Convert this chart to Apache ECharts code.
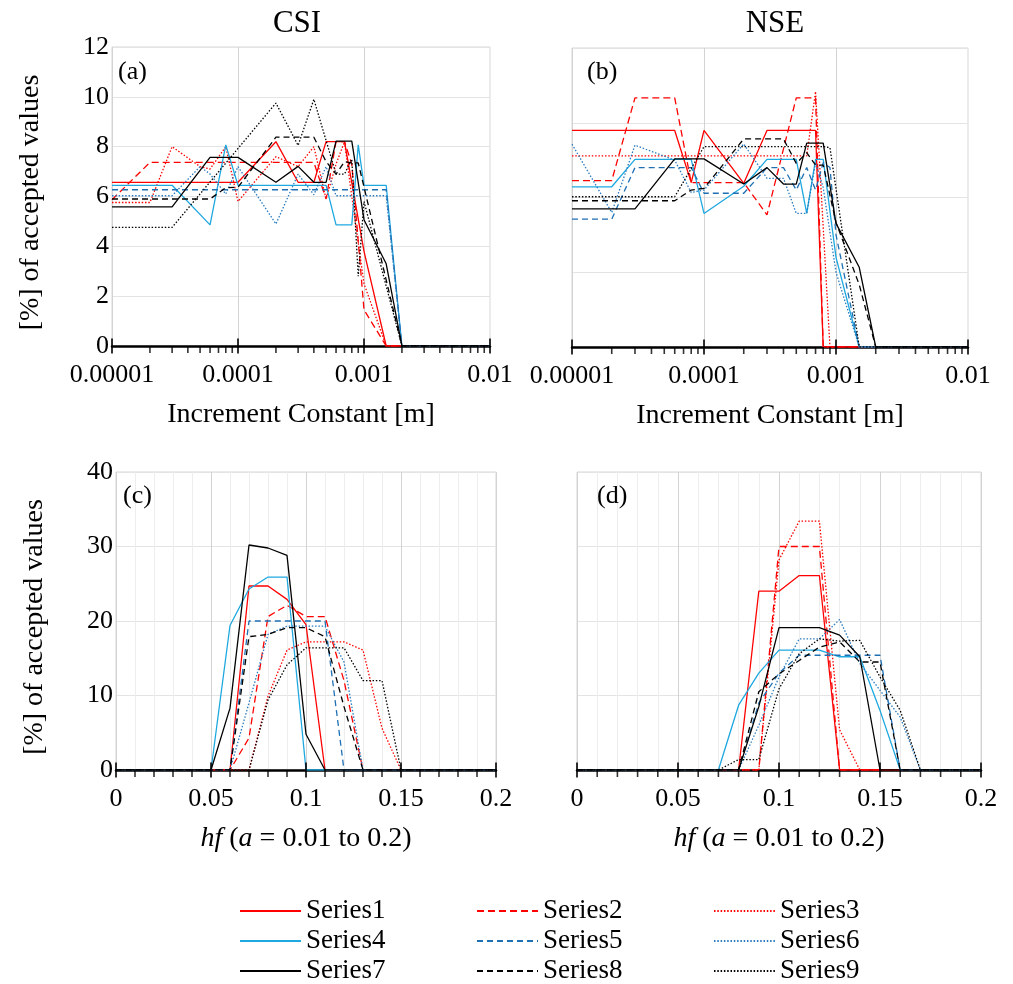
<!DOCTYPE html>
<html>
<head>
<meta charset="utf-8">
<script src="https://cdn.jsdelivr.net/npm/echarts@6/dist/echarts.min.js"></script>
<style>
  html, body { margin: 0; padding: 0; background: #ffffff; }
  #chart { width: 1013px; height: 984px; }
</style>
</head>
<body>
<div id="chart"></div>
<script>
// ---- data -------------------------------------------------------------
const SERIES_NAMES = ['Series1', 'Series2', 'Series3', 'Series4', 'Series5', 'Series6', 'Series7', 'Series8', 'Series9'];

// increment constant [m] (log axis), shared by the CSI and NSE panels
const X_INCREMENT = [1e-5, 2e-5, 3e-5, 5e-5, 6e-5, 8e-5, 1e-4, 2e-4, 3e-4, 4e-4, 5e-4, 6e-4, 7e-4, 8e-4, 9e-4, 1e-3, 1.5e-3, 2e-3, 1e-2];
// hf values (linear axis)
const X_HF = [0, 0.01, 0.02, 0.03, 0.04, 0.05, 0.06, 0.07, 0.08, 0.09, 0.1, 0.11, 0.12, 0.13, 0.14, 0.15, 0.16, 0.17, 0.18, 0.19, 0.2];

const n = null; // no sample at this x for that series

// (a) CSI vs increment constant, % of accepted values
const CSI_INCREMENT = [
  [6.57, 6.57, 6.57, 6.57, 6.57, 6.57, 6.57, 8.2, 6.57, 6.57, 8.2, 8.2, 8.2, n, n, 3.8, 0, 0, 0],
  [5.87, 7.37, 7.37, 7.37, 7.37, 7.37, 7.37, 7.37, 7.37, 7.37, 5.9, 8.2, 8.2, 7.3, n, 1.45, 0, 0, 0],
  [5.76, 5.76, 8.0, 7.2, 7.1, 8.0, 5.8, 7.6, 7.2, 8.0, 5.9, 7.3, 8.2, 6.0, n, 2.5, 0, 0, 0],
  [6.45, 6.45, 6.45, n, 4.86, 8.07, 6.45, 6.45, 6.45, 6.45, 6.45, 4.86, 4.86, 4.86, 8.07, 6.45, 6.45, 0, 0],
  [6.27, 6.27, 6.27, 6.27, 6.27, 6.27, 6.27, 6.27, 6.27, 6.27, 6.27, 6.27, 6.27, 6.27, 6.27, 6.27, 6.27, 0, 0],
  [6.03, 6.03, 6.03, 7.2, 6.9, 6.1, 7.2, 4.9, 6.9, 6.07, 7.2, 6.03, 6.03, 6.03, 6.03, 6.03, 6.03, 0, 0],
  [5.58, 5.58, 5.58, n, 7.57, 7.57, 7.57, 6.57, 7.21, 6.57, 6.57, 8.22, 8.22, 8.22, n, 5.07, 3.3, 0, 0],
  [5.9, 5.9, 5.9, 5.9, 5.9, 6.35, 6.37, 8.38, 8.38, 8.38, 7.4, 6.9, 7.4, 7.35, 7.35, n, n, 0, 0],
  [4.76, 4.76, 4.76, n, n, n, n, 9.75, 8.05, 9.9, n, 6.9, 6.9, 7.5, 2.8, 5.8, n, 0, 0]
];

// (b) NSE vs increment constant
const NSE_INCREMENT = [
  [8.69, 8.69, 8.69, 8.69, 8.69, 6.6, 8.69, 6.57, 8.69, 8.69, 8.69, 8.69, 8.69, 0, 0, 0, 0, 0, 0],
  [6.68, 6.68, 10.0, 10.0, 10.0, 6.6, 6.6, 6.6, 5.3, n, 10.0, 10.0, 10.0, 0, 0, 0, 0, 0, 0],
  [7.67, 7.67, 7.67, 7.67, 7.67, 7.67, 7.67, 7.67, 7.67, 7.67, 7.67, 7.67, 10.25, n, 0, 0, 0, 0, 0],
  [6.43, 6.43, 7.53, 7.53, 7.53, 7.53, 5.36, 6.45, 7.53, 7.53, 7.53, 5.36, 7.53, 7.53, n, 3.6, 0, 0, 0],
  [5.13, 5.13, 7.2, 7.2, 7.2, 7.2, 6.17, 6.17, 7.2, 7.2, 6.3, 7.2, 6.3, 7.4, 7.2, 4.5, 0, 0, 0],
  [8.14, 5.4, 8.1, n, 7.5, 6.2, 6.3, 8.15, 6.77, 6.77, 5.36, 5.36, 7.4, 6.4, n, 3.0, 0, 0, 0],
  [5.54, 5.54, 5.54, n, 7.55, 7.55, 7.55, 6.54, 7.2, 6.54, 6.54, 8.18, 8.18, 8.18, n, 4.96, 3.2, 0, 0],
  [5.87, 5.87, 5.87, 5.87, 5.87, 6.3, 6.37, 8.35, 8.35, 8.35, 7.37, 7.8, 7.3, 7.3, n, 5.0, 2.5, 0, 0],
  [6.03, 6.03, 6.03, 6.03, 6.03, n, 8.04, 8.04, 8.04, 8.04, 8.04, 8.04, 8.04, 8.04, 8.0, n, 0, 0, 0]
];

// (c) CSI vs hf
const CSI_HF = [
  [0, 0, 0, 0, 0, 0, 0, 24.7, 24.7, 22.9, 19.5, 0, 0, 0, 0, 0, 0, 0, 0, 0, 0],
  [0, 0, 0, 0, 0, 0, 0, 4.3, 20.6, 22.1, 20.6, 20.6, 12, 0, 0, 0, 0, 0, 0, 0, 0],
  [0, 0, 0, 0, 0, 0, 0, 0, 9.9, 16.1, 17.2, 17.2, 17.2, 16.1, 5.6, 0, 0, 0, 0, 0, 0],
  [0, 0, 0, 0, 0, 0, 19.4, 24.3, 25.9, 25.9, 0, 0, 0, 0, 0, 0, 0, 0, 0, 0, 0],
  [0, 0, 0, 0, 0, 0, 0, 20, 20, 20, 20, 20, 0, 0, 0, 0, 0, 0, 0, 0, 0],
  [0, 0, 0, 0, 0, 0, 0, 9, 18.2, 19.3, 19.3, 19.3, 14.5, 0, 0, 0, 0, 0, 0, 0, 0],
  [0, 0, 0, 0, 0, 0, 8.3, 30.2, 29.8, 28.8, 4.8, 0, 0, 0, 0, 0, 0, 0, 0, 0, 0],
  [0, 0, 0, 0, 0, 0, 0, 17.9, 18.2, 19.1, 19.1, 17.9, 8.5, 0, 0, 0, 0, 0, 0, 0, 0],
  [0, 0, 0, 0, 0, 0, 0, 0, 9.4, 14.1, 16.4, 16.4, 16.4, 12, 12, 0, 0, 0, 0, 0, 0]
];

// (d) NSE vs hf
const NSE_HF = [
  [0, 0, 0, 0, 0, 0, 0, 0, 0, 24, 24, 26.1, 26.1, 0, 0, 0, 0, 0, 0, 0, 0],
  [0, 0, 0, 0, 0, 0, 0, 0, 0, 0, 30, 30, 30, 0, 0, 0, 0, 0, 0, 0, 0],
  [0, 0, 0, 0, 0, 0, 0, 0, 0, 0, 28.2, 33.4, 33.4, 5.4, 0, 0, 0, 0, 0, 0, 0],
  [0, 0, 0, 0, 0, 0, 0, 0, 8.7, 13, 16.1, 16.1, 16.1, 15.2, 15.2, 8, 0, 0, 0, 0, 0],
  [0, 0, 0, 0, 0, 0, 0, 0, 0, 9, 13, 15.4, 15.4, 15.4, 15.4, 15.4, 0, 0, 0, 0, 0],
  [0, 0, 0, 0, 0, 0, 0, 0, 0, 6, 12.5, 17.6, 17.6, 20.2, 14.3, 10.7, 7.1, 0, 0, 0, 0],
  [0, 0, 0, 0, 0, 0, 0, 0, 0, 8.5, 19.1, 19.1, 19.1, 18.1, 15.2, 0, 0, 0, 0, 0, 0],
  [0, 0, 0, 0, 0, 0, 0, 0, 0, 10.5, 12.9, 14.7, 16.5, 17.2, 14.5, 14.5, 0, 0, 0, 0, 0],
  [0, 0, 0, 0, 0, 0, 0, 0, 1.4, 1.4, 10.9, 15.6, 17.6, 17.3, 17.4, 12.5, 8, 0, 0, 0, 0]
];

// tick labels
const LOG_TICK_LABELS = ['0.00001', '0.0001', '0.001', '0.01'];
const PANEL_TITLES = ['CSI', 'NSE'];
const PANEL_TAGS = ['(a)', '(b)', '(c)', '(d)'];
const Y_NAME = '[%] of accepted values';
const X_NAME_INC = 'Increment Constant [m]';
const X_NAME_HF = '{i|hf} ({i|a} = 0.01 to 0.2)';

// ---- styling ----------------------------------------------------------
const FONT = "'Liberation Serif', 'Times New Roman', serif";
const COLORS = ['#ff0000', '#ff0000', '#ff0000', '#1ea8e0', '#1f6fb3', '#2a7bbf', '#000000', '#000000', '#000000'];
const DASHES = ['solid', [7, 4], [1.5, 1.8], 'solid', [6, 4], [1.5, 1.8], 'solid', [6, 4], [1.5, 1.8]];

// tick positions for the hand-drawn tick marks
const LOG_MAJOR = [1e-5, 1e-4, 1e-3, 1e-2];
const LOG_MINOR = [];
[1e-5, 1e-4, 1e-3].forEach(d => { for (let m = 2; m <= 9; m++) LOG_MINOR.push(Number((m * d).toPrecision(3))); });
const LIN_MAJOR = [0, 0.05, 0.1, 0.15, 0.2];
const LIN_MINOR = [];
for (let k = 1; k < 20; k++) if (k % 5 !== 0) LIN_MINOR.push(Number((k * 0.01).toFixed(2)));

const GRIDS = [
  { left: 112, top: 47, width: 378, height: 299 },
  { left: 572, top: 48, width: 396, height: 299 },
  { left: 116, top: 472, width: 380, height: 298 },
  { left: 577, top: 472, width: 404, height: 298 }
];

const tickLabelStyle = { fontSize: 26, fontFamily: FONT, color: '#000' };
const nameStyle = { fontSize: 28, fontFamily: FONT, color: '#000',
  rich: { i: { fontSize: 28, fontFamily: FONT, fontStyle: 'italic', color: '#000' } } };

function xAxisFor(i) {
  const isLog = i < 2;
  const base = {
    gridIndex: i,
    axisLine: { show: true, onZero: false, lineStyle: { color: '#000', width: 2.5 } },
    axisTick: { show: false },
    splitLine: { show: true, lineStyle: { color: '#d3d3d3', width: 1 } },
    name: isLog ? X_NAME_INC : X_NAME_HF,
    nameLocation: 'middle',
    nameGap: 55,
    nameTextStyle: nameStyle
  };
  if (isLog) {
    return Object.assign(base, {
      type: 'log', logBase: 10, min: 1e-5, max: 1e-2,
      axisLabel: Object.assign({ margin: 16, formatter: v => LOG_TICK_LABELS[Math.round(Math.log10(v)) + 5] }, tickLabelStyle)
    });
  }
  return Object.assign(base, {
    type: 'value', min: 0, max: 0.2, interval: 0.05,
    minorTick: { show: false, splitNumber: 5 },
    minorSplitLine: { show: true, lineStyle: { color: '#ededed', width: 1 } },
    axisLabel: Object.assign({ margin: 16 }, tickLabelStyle)
  });
}

function yAxisFor(i) {
  const top = i < 2;
  const labelled = i % 2 === 0;
  return {
    gridIndex: i, type: 'value', min: 0,
    max: top ? 12 : 40,
    interval: top ? (labelled ? 2 : 3) : 10,
    axisLine: { show: false }, axisTick: { show: false },
    splitLine: { show: true, lineStyle: { color: '#e4e4e4', width: 1 } },
    axisLabel: Object.assign({ show: labelled, margin: 3 }, tickLabelStyle),
    name: labelled ? Y_NAME : '',
    nameLocation: 'middle', nameRotate: 90, nameGap: 67,
    nameTextStyle: Object.assign({ padding: [0, 12, 0, 0] }, nameStyle)
  };
}

const series = [];
const panels = [
  { rows: CSI_INCREMENT, xs: X_INCREMENT },
  { rows: NSE_INCREMENT, xs: X_INCREMENT },
  { rows: CSI_HF, xs: X_HF },
  { rows: NSE_HF, xs: X_HF }
];
panels.forEach((p, g) => {
  p.rows.forEach((vals, k) => {
    series.push({
      type: 'line', name: SERIES_NAMES[k], xAxisIndex: g, yAxisIndex: g,
      data: p.xs.map((x, j) => [x, vals[j]]).filter(d => d[1] !== null),
      symbol: 'none', showSymbol: false, silent: true,
      lineStyle: { color: COLORS[k], width: 1.3, type: DASHES[k] },
      itemStyle: { color: COLORS[k] },
      z: 3
    });
  });
  // tick marks (major ticks cross the axis, minor ticks hang below it)
  const isLog = g < 2;
  const major = isLog ? LOG_MAJOR : LIN_MAJOR;
  const minor = isLog ? LOG_MINOR : LIN_MINOR;
  const tickSeries = {
    type: 'scatter', name: 'ticks', xAxisIndex: g, yAxisIndex: g,
    symbol: 'rect', silent: true, clip: false, z: 10,
    itemStyle: { color: '#000' },
    data: major.map(v => ({ value: [v, 0], symbolSize: [2, 15] }))
      .concat(minor.map(v => ({ value: [v, 0], symbolSize: [1.6, 7], symbolOffset: [0, 3.5] })))
  };
  if (isLog) {
    tickSeries.markLine = {
      silent: true, symbol: 'none', z: 1, animation: false,
      label: { show: false },
      lineStyle: { color: '#ececec', type: 'solid', width: 1 },
      emphasis: { disabled: true },
      data: minor.map(v => ({ xAxis: v }))
    };
  }
  series.push(tickSeries);
});

function label(text, x, y, size, align) {
  return { type: 'text', x, y, z: 100,
    style: { text, font: `${size}px ${FONT}`, fill: '#000', align, verticalAlign: 'middle',
      backgroundColor: 'transparent' } };
}
const graphic = [
  label(PANEL_TITLES[0], 297, 24, 31, 'center'),
  label(PANEL_TITLES[1], 775, 24, 31, 'center'),
  label(PANEL_TAGS[0], 118, 72, 26, 'left'),
  label(PANEL_TAGS[1], 587, 72, 26, 'left'),
  label(PANEL_TAGS[2], 123, 496, 26, 'left'),
  label(PANEL_TAGS[3], 597, 496, 26, 'left')
];

const legendLefts = [239, 476, 713];
const legend = [0, 1, 2].map(c => ({
  orient: 'vertical', left: legendLefts[c], top: 896, height: 120, padding: 0,
  data: [SERIES_NAMES[c], SERIES_NAMES[c + 3], SERIES_NAMES[c + 6]],
  itemWidth: 61, itemHeight: 12, itemGap: 0,
  selectedMode: false,
  itemStyle: { opacity: 0 },
  lineStyle: { width: 2 },
  textStyle: { fontSize: 27, fontFamily: FONT, color: '#000', lineHeight: 30 }
}));

const chart = echarts.init(document.getElementById('chart'), null, { renderer: 'canvas' });
chart.setOption({
  backgroundColor: '#ffffff',
  animation: false,
  grid: GRIDS.map(g => Object.assign({ show: true, borderColor: '#d6d6d6', borderWidth: 1, containLabel: false }, g)),
  xAxis: [0, 1, 2, 3].map(xAxisFor),
  yAxis: [0, 1, 2, 3].map(yAxisFor),
  legend,
  graphic,
  series
});
</script>
</body>
</html>
